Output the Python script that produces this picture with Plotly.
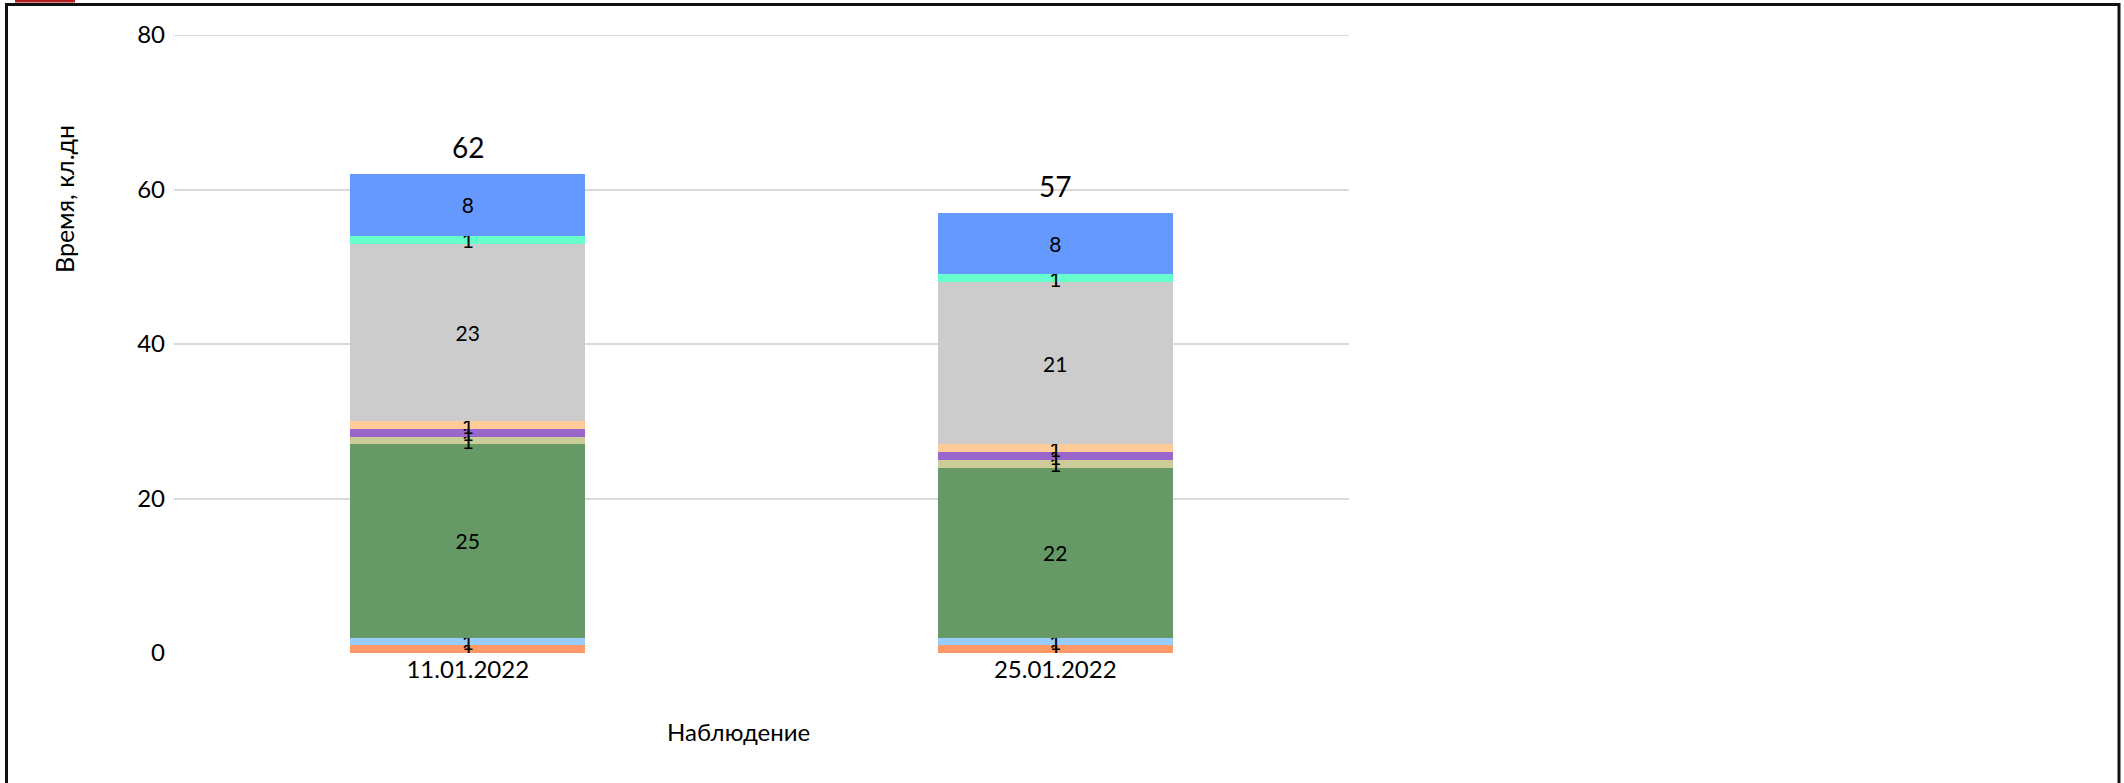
import plotly.graph_objects as go

categories = ["11.01.2022", "25.01.2022"]
series_names = ["s1", "s2", "s3", "s4", "s5", "s6", "s7", "s8", "s9"]
s1 = [1, 1]
s2 = [1, 1]
s3 = [25, 22]
s4 = [1, 1]
s5 = [1, 1]
s6 = [1, 1]
s7 = [23, 21]
s8 = [1, 1]
s9 = [8, 8]
series_values = [s1, s2, s3, s4, s5, s6, s7, s8, s9]
colors = ["#FF9966", "#99CCFF", "#669966", "#CCCC99", "#9966CC",
          "#FFCC99", "#CCCCCC", "#66FFCC", "#6699FF"]
totals = [sum(v[i] for v in series_values) for i in range(len(categories))]
y_ticks = [0, 20, 40, 60, 80]

FONT = "Lato, 'Noto Sans', sans-serif"

W, H = 2124, 783
L, R, T, B = 174, 1349, 35, 653

fig = go.Figure()
for name, vals, col in zip(series_names, series_values, colors):
    fig.add_trace(go.Bar(
        x=categories, y=vals, name=name, marker=dict(color=col, line=dict(width=0)),
        text=[str(v) for v in vals], textposition="inside", insidetextanchor="middle",
        textangle=0, constraintext="none",
        textfont=dict(family=FONT, size=21, color="#000"),
    ))

for c, t in zip(categories, totals):
    fig.add_annotation(x=c, y=t, text=str(t), showarrow=False, yanchor="bottom",
                       yshift=8, font=dict(family=FONT, size=28, color="#000"))

def px_x(px):
    return (px - L) / (R - L)

def px_y(py):
    return (B - py) / (B - T)

fig.add_annotation(xref="paper", yref="paper", x=px_x(64), y=px_y(199), text="Время, кл.дн",
                   textangle=-90, showarrow=False, xanchor="center", yanchor="middle",
                   font=dict(family=FONT, size=25, color="#000"))
fig.add_annotation(xref="paper", yref="paper", x=px_x(738), y=px_y(731), text="Наблюдение",
                   showarrow=False, xanchor="center", yanchor="middle",
                   font=dict(family=FONT, size=24, color="#000"))

# top gridline (at the range edge)
fig.add_shape(type="line", xref="paper", yref="y", x0=0, x1=1, y0=y_ticks[-1], y1=y_ticks[-1],
              line=dict(color="#D9D9D9", width=2), layer="below")

# page frame
frame = dict(color="#111", width=3)
fig.add_shape(type="line", xref="paper", yref="paper", x0=px_x(6.5), x1=px_x(6.5), y0=px_y(3), y1=px_y(800), line=frame)
fig.add_shape(type="line", xref="paper", yref="paper", x0=px_x(5), x1=px_x(2120), y0=px_y(4.5), y1=px_y(4.5), line=frame)
fig.add_shape(type="line", xref="paper", yref="paper", x0=px_x(2119), x1=px_x(2119), y0=px_y(3), y1=px_y(800), line=frame)
fig.add_shape(type="rect", xref="paper", yref="paper", x0=px_x(15), x1=px_x(75), y0=px_y(-2), y1=px_y(2.5),
              fillcolor="#B01E1E", line=dict(width=0))

fig.update_layout(
    width=W, height=H, barmode="stack", bargap=0.6, showlegend=False,
    margin=dict(l=L, r=W - R, t=T, b=H - B, pad=0),
    paper_bgcolor="white", plot_bgcolor="white",
    font=dict(family=FONT, color="#000"),
    xaxis=dict(showgrid=False, zeroline=False, showline=False, ticks="",
               tickfont=dict(family=FONT, size=24, color="#000")),
    yaxis=dict(range=[0, 80], tickvals=y_ticks, showgrid=True, gridcolor="#D9D9D9", gridwidth=2,
               zeroline=False, showline=False, ticks="", ticklabelstandoff=8,
               tickfont=dict(family=FONT, size=24, color="#000")),
)

fig.write_html("out.html", config={"displayModeBar": False},
               post_script="document.body.style.margin='0';document.body.style.overflow='hidden';")
